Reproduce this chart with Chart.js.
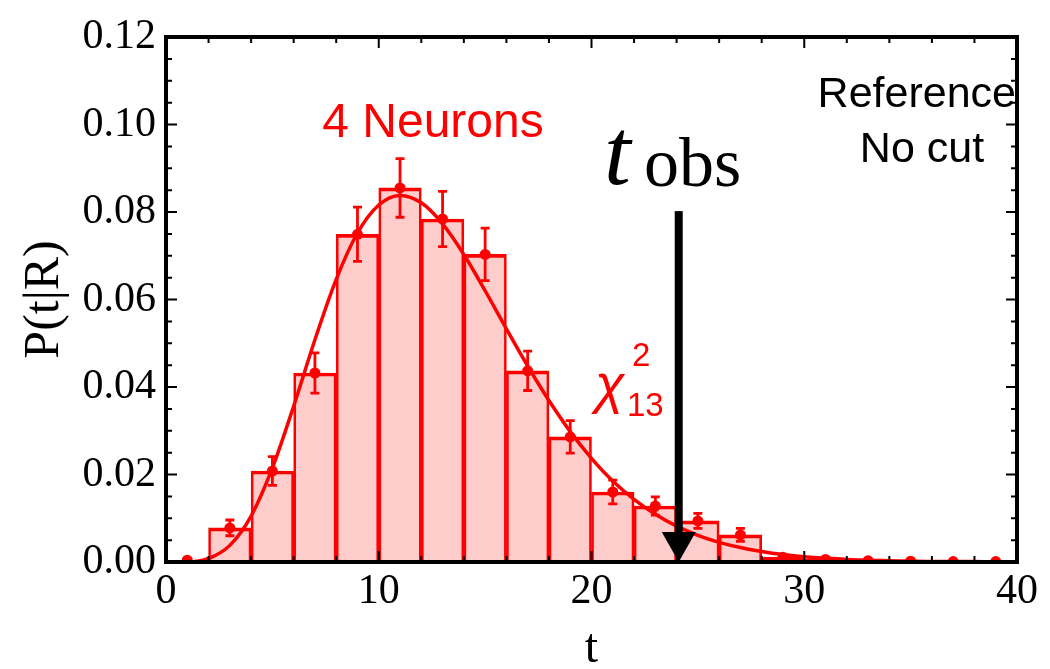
<!DOCTYPE html>
<html>
<head>
<meta charset="utf-8">
<script src="https://cdn.jsdelivr.net/npm/chart.js@4"></script>
<style>
  html, body { margin: 0; padding: 0; background: #fff; }
</style>
</head>
<body>
<canvas id="myChart" width="1050" height="669"></canvas>
<script>
// histogram bins (width 2), bin centres
const binCenters = [1, 3, 5, 7, 9, 11, 13, 15, 17, 19, 21, 23, 25, 27, 29, 31, 33, 35, 37, 39];
const density = [0.0004, 0.0078, 0.0208, 0.0432, 0.0749, 0.0855, 0.0784, 0.0703, 0.0437, 0.0286,
                 0.0160, 0.0128, 0.0094, 0.0062, 0.0011, 0.0006, 0.0003, 0.0002, 0.0001, 0.0001];
const errors = [0.0003, 0.0018, 0.0033, 0.0046, 0.0062, 0.0067, 0.0063, 0.0060, 0.0045, 0.0037,
                0.0027, 0.0021, 0.0017, 0.0015, 0.0005, 0.0003, 0.0002, 0.0001, 0.0001, 0.0001];

// chi2 (13 dof) curve
const curveT = [0, 1, 2, 3, 4, 5, 6, 7, 8, 9, 10, 11, 12, 13, 14, 15, 16, 17, 18, 19, 20,
                21, 22, 23, 24, 25, 26, 27, 28, 29, 30, 31, 32, 33, 34, 35, 36, 37, 38, 39, 40];
const curveP = [0, 0.0000, 0.0008, 0.0038, 0.0105, 0.0215, 0.0356, 0.0508, 0.0646, 0.0752, 0.0816,
                0.0838, 0.0821, 0.0773, 0.0703, 0.0620, 0.0533, 0.0448, 0.0369, 0.0298, 0.0237,
                0.0185, 0.0143, 0.0109, 0.0082, 0.0061, 0.0045, 0.0033, 0.0024, 0.0017, 0.0012,
                0.0009, 0.0006, 0.0004, 0.0003, 0.0002, 0.0001, 0.0001, 0.0001, 0.0000, 0.0000];

const xRange = [0, 40];
const yRange = [0, 0.12];
const xStep = 10, xMinor = 2;
const yStep = 0.02, yMinor = 0.005;
const tObs = 24.1;
const arrowTop = 0.0802;

const RED = 'rgb(255,0,0)';
const serif = '"Liberation Serif", "Times New Roman", serif';
const sans = '"Liberation Sans", Arial, sans-serif';

const points = binCenters.map((x, i) => ({ x: x, y: density[i] }));
const curve = curveT.map((x, i) => ({ x: x, y: curveP[i] }));

// frame, inward ticks, error bars, arrow and text
const decorations = {
  id: 'decorations',
  afterDatasetsDraw(chart) {
    const ctx = chart.ctx;
    const xs = chart.scales.x, ys = chart.scales.y;
    ctx.save();
    ctx.strokeStyle = RED;
    ctx.lineWidth = 2.8;
    binCenters.forEach((c, i) => {
      const px = xs.getPixelForValue(c);
      const y1 = ys.getPixelForValue(density[i] + errors[i]);
      const y2 = ys.getPixelForValue(density[i] - errors[i]);
      if (y2 - y1 < 4) return;
      ctx.beginPath();
      ctx.moveTo(px, y1); ctx.lineTo(px, y2);
      ctx.moveTo(px - 4.5, y1); ctx.lineTo(px + 4.5, y1);
      ctx.moveTo(px - 4.5, y2); ctx.lineTo(px + 4.5, y2);
      ctx.stroke();
    });
    ctx.restore();
  },
  afterDraw(chart) {
    const ctx = chart.ctx;
    const a = chart.chartArea;
    const xs = chart.scales.x, ys = chart.scales.y;
    ctx.save();

    // arrow at t_obs
    const ax = xs.getPixelForValue(tObs);
    const aTop = ys.getPixelForValue(arrowTop);
    const tip = ys.getPixelForValue(0);
    ctx.fillStyle = '#000';
    ctx.fillRect(ax - 4, aTop, 8, tip - 30 - aTop + 1);
    ctx.beginPath();
    ctx.moveTo(ax - 17, tip - 30);
    ctx.lineTo(ax + 17, tip - 30);
    ctx.lineTo(ax, tip);
    ctx.closePath();
    ctx.fill();

    // frame + ticks
    ctx.strokeStyle = '#000';
    ctx.lineWidth = 2;
    for (let v = xRange[0]; v <= xRange[1] + 1e-9; v += xMinor) {
      const px = xs.getPixelForValue(v);
      const len = (Math.abs(v % xStep) < 1e-9) ? 11 : 6;
      ctx.beginPath();
      ctx.moveTo(px, a.bottom); ctx.lineTo(px, a.bottom - len);
      ctx.moveTo(px, a.top); ctx.lineTo(px, a.top + len);
      ctx.stroke();
    }
    for (let k = 0; k <= Math.round((yRange[1] - yRange[0]) / yMinor); k++) {
      const v = yRange[0] + k * yMinor;
      const py = ys.getPixelForValue(v);
      const len = (k % 4 === 0) ? 11 : 6;
      ctx.beginPath();
      ctx.moveTo(a.left, py); ctx.lineTo(a.left + len, py);
      ctx.moveTo(a.right, py); ctx.lineTo(a.right - len, py);
      ctx.stroke();
    }
    ctx.lineWidth = 4;
    ctx.strokeRect(a.left, a.top, a.right - a.left, a.bottom - a.top);

    // axis titles
    ctx.fillStyle = '#000';
    ctx.textAlign = 'center';
    ctx.textBaseline = 'alphabetic';
    ctx.font = '48px ' + serif;
    ctx.fillText('t', (a.left + a.right) / 2, 662);
    ctx.save();
    ctx.translate(58, (a.top + a.bottom) / 2);
    ctx.rotate(-Math.PI / 2);
    ctx.font = '50px ' + serif;
    ctx.fillText('P(t|R)', 0, 0);
    ctx.restore();

    // labels
    ctx.fillStyle = RED;
    ctx.font = '48px ' + sans;
    ctx.fillText('4 Neurons', 433, 137);

    ctx.fillStyle = '#000';
    ctx.font = '43px ' + sans;
    ctx.textAlign = 'right';
    ctx.fillText('Reference', 1016, 107);
    ctx.textAlign = 'center';
    ctx.fillText('No cut', 922, 162);

    ctx.textAlign = 'left';
    ctx.font = 'italic 96px ' + serif;
    ctx.fillText('t', 604, 184);
    ctx.font = '70px ' + serif;
    ctx.fillText('obs', 644, 186);

    ctx.fillStyle = RED;
    ctx.font = 'italic 54px ' + sans;
    ctx.fillText('\u03C7', 595, 403);
    ctx.font = '33px ' + sans;
    ctx.fillText('2', 632, 366);
    ctx.fillText('13', 627, 416);

    ctx.restore();
  }
};

const ctx = document.getElementById('myChart').getContext('2d');
const myChart = new Chart(ctx, {
  type: 'bar',
  data: {
    datasets: [
      {
        type: 'scatter',
        data: points,
        pointRadius: 5.5,
        pointBackgroundColor: RED,
        pointBorderWidth: 0,
        order: 0
      },
      {
        type: 'line',
        data: curve,
        borderColor: RED,
        borderWidth: 3.5,
        pointRadius: 0,
        fill: false,
        cubicInterpolationMode: 'monotone',
        order: 1
      },
      {
        type: 'bar',
        data: points,
        backgroundColor: 'rgba(255,0,0,0.2)',
        borderColor: RED,
        borderWidth: { top: 3, left: 2, right: 2, bottom: 0 },
        borderSkipped: false,
        barPercentage: 1,
        categoryPercentage: 1,
        order: 2
      }
    ]
  },
  options: {
    responsive: false,
    animation: false,
    layout: { padding: { top: 37, right: 33, left: 0, bottom: 0 } },
    plugins: { legend: { display: false }, tooltip: { enabled: false } },
    scales: {
      x: {
        type: 'linear',
        offset: false,
        min: xRange[0],
        max: xRange[1],
        grid: { display: false },
        border: { display: false },
        ticks: { stepSize: xStep, color: '#000', font: { family: serif, size: 42 }, padding: -3, maxRotation: 0 },
        afterFit(scale) { scale.height = 107; }
      },
      y: {
        min: yRange[0],
        max: yRange[1],
        grid: { display: false },
        border: { display: false },
        ticks: { stepSize: yStep, color: '#000', font: { family: serif, size: 42 }, padding: 2,
                 callback: v => v.toFixed(2) },
        afterFit(scale) { scale.width = 166; }
      }
    }
  },
  plugins: [decorations]
});
</script>
</body>
</html>
